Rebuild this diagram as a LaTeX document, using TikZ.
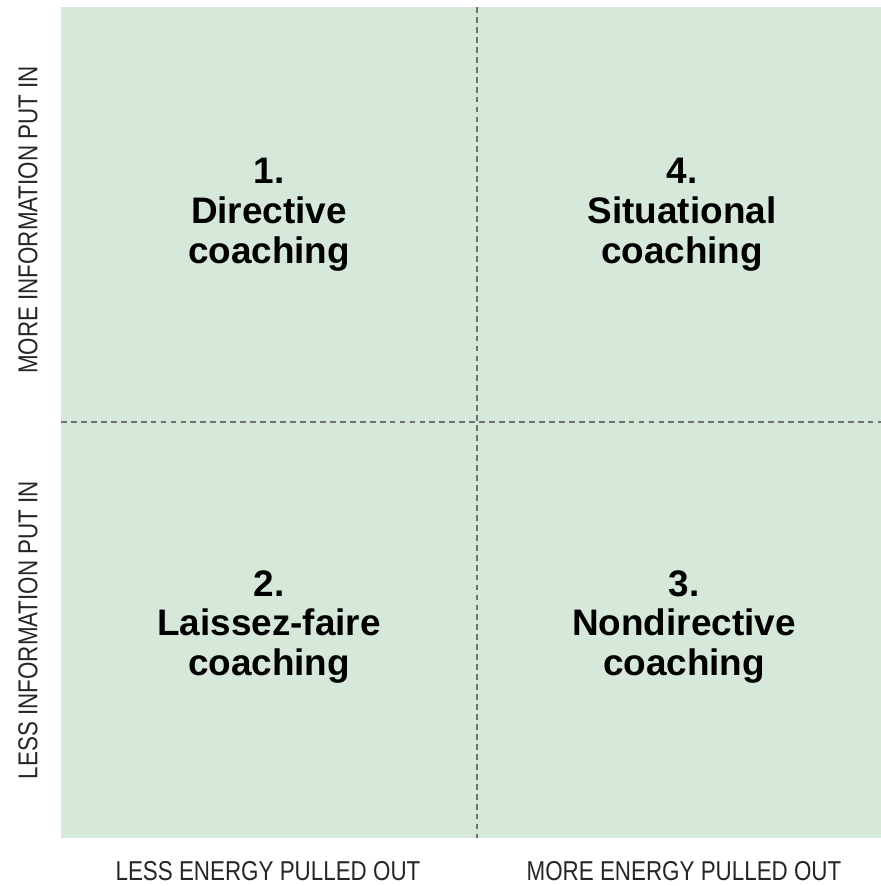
\documentclass[tikz,border=0pt]{standalone}
\usepackage{fontspec}
\setmainfont{Liberation Sans}
\newfontfamily\axisfont[FakeStretch=0.82]{Liberation Sans}
\usetikzlibrary{positioning}
\definecolor{quadgreen}{HTML}{D5E8DA}
\definecolor{dashgray}{HTML}{707070}
\tikzset{
  quadlabel/.style={align=center,font=\fontsize{31.5}{34}\selectfont\bfseries,text=black},
  axislabel/.style={font=\axisfont\fontsize{23.3}{26}\selectfont,text=black!85},
  divider/.style={color=dashgray,dashed,dash pattern=on 5pt off 3.5pt,line width=0.9pt}
}
\begin{document}
\begin{tikzpicture}[x=0.03cm,y=0.03cm]
              \useasboundingbox (0,0) rectangle (881,886);
              \fill[quadgreen] (61,48) rectangle (881,879);
              \coordinate (top) at (477,879);
              \coordinate (bottom) at (477,48);
              \coordinate (left) at (61,464);
              \coordinate (right) at (881,464);
              \draw[divider] (top) -- (bottom);
              \draw[divider] (left) -- (right);
              \node[quadlabel] (directive) at (269,671) {1.\\Directive\\coaching};
              \node[quadlabel] (situational) at (682,671) {4.\\Situational\\coaching};
              \node[quadlabel] (laissez) at (269,259) {2.\\Laissez-faire\\coaching};
              \node[quadlabel] (nondirective) at (684,259) {3.\\Nondirective\\coaching};
              \node[axislabel] (lessenergy) at (268,15) {LESS ENERGY PULLED OUT};
              \node[axislabel] (moreenergy) at (684,15) {MORE ENERGY PULLED OUT};
              \node[axislabel,rotate=90] (moreinfo) at (28,666) {MORE INFORMATION PUT IN};
              \node[axislabel,rotate=90] (lessinfo) at (28,256) {LESS INFORMATION PUT IN};
        \end{tikzpicture}
\end{document}
